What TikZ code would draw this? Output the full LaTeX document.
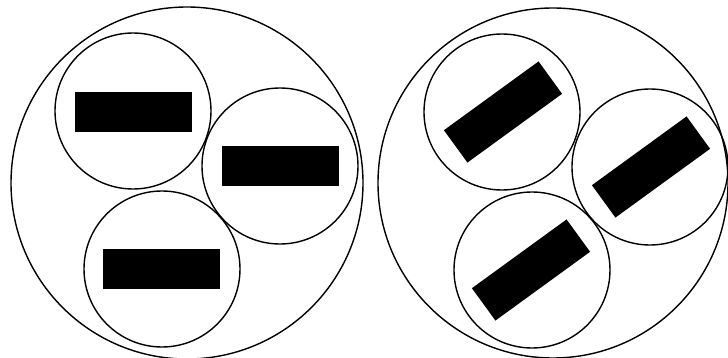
\documentclass[tikz,border=0pt]{standalone}
\usepackage{tikz}
\tikzset{
  ring/.style={draw,line width=0.8pt},
  slab/.style={fill=black}
}
\begin{document}
\begin{tikzpicture}[x=0.02cm,y=-0.02cm]
  \useasboundingbox (0,0) rectangle (728,358);
  % left: level slabs
  \draw[ring] (187,183) circle (176);
  \draw[ring] (133,111) circle (78);
  \draw[ring] (280,166) circle (78);
  \draw[ring] (162,269) circle (78);
  \fill[slab] (75,92) rectangle (192,132);
  \fill[slab] (222,146) rectangle (339,186);
  \fill[slab] (103,249) rectangle (220,289);
  % right: tilted slabs
  \draw[ring] (553,183) circle (175);
  \draw[ring] (502,112) circle (78);
  \draw[ring] (650,167) circle (78);
  \draw[ring] (532,270) circle (78);
  \fill[slab,rotate around={36:(503,112)}] (444.5,92) rectangle (561.5,132);
  \fill[slab,rotate around={36:(651,167)}] (592.5,147) rectangle (709.5,187);
  \fill[slab,rotate around={36:(531,270)}] (472.5,250) rectangle (589.5,290);
\end{tikzpicture}
\end{document}
